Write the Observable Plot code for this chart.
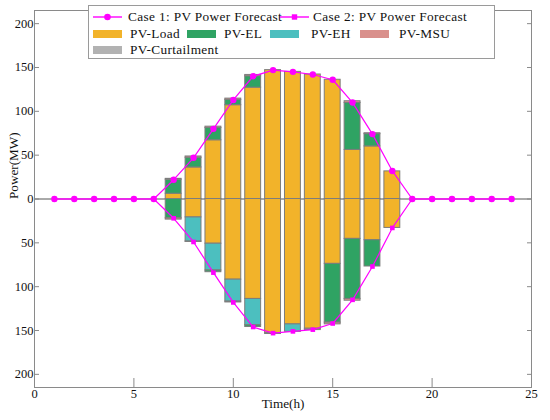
<!DOCTYPE html>
<html><head><meta charset="utf-8">
<script src="https://cdn.jsdelivr.net/npm/d3@7"></script>
<script src="https://cdn.jsdelivr.net/npm/@observablehq/plot@0.6"></script>
<style>
body{margin:0;background:#fff;}
#wrap{position:relative;width:550px;height:420px;font-family:"Liberation Serif","Times New Roman",serif;color:#111;}
#legend{position:absolute;left:88px;top:5px;width:407px;height:54px;border:1px solid #9a9a9a;background:#fff;box-sizing:border-box;}
.lg{position:absolute;font-size:13.3px;line-height:14px;white-space:nowrap;letter-spacing:0.35px;}
.sw{position:absolute;height:8px;width:29px;}
.ic{position:absolute;}
</style></head>
<body><div id="wrap"><div id="chart"></div><div id="legend"></div></div>
<script>
const hours = [1,2,3,4,5,6,7,8,9,10,11,12,13,14,15,16,17,18,19,20,21,22,23,24];
const case1Forecast = [0,0,0,0,0,0,22,47,80,113,140,147,145,142,136,110,74,32,0,0,0,0,0,0];
const case2Forecast = [0,0,0,0,0,0,22,49,84,118,146,153,151,149,142,115,77,33,0,0,0,0,0,0];

const barHours = [7,8,9,10,11,12,13,14,15,16,17,18];
const case1Load = [6,36,67,107,127,147,145,142,136,56,60,31.5];
const case1EH   = [0,0,0,0,0,0,0,0,0,0,0,0];
const case1EL   = [16,11,14,6,13,0,0,0,0,53.5,14,0];
const case1MSU  = [1,1.5,1.5,1.5,1.5,0,0,0,0,2,1,0];
const case1Curt = [0,0,0,0,0,0,0,0,0,0,0,0];

const case2Load = [0,21,51,92,114,153,143,148,74,45.5,47,33];
const case2EH   = [0,27.5,30.5,25,30,0,8.5,0,0,0,0,0];
const case2EL   = [22,0,2,0,2,0,0,0,67,68.5,30,0];
const case2MSU  = [1.5,0.5,0,1,0,1,0,1.5,2,2,0,0];
const case2Curt = [0,0,0,0,0,0,0,0,0,0,0,0];

const seriesNames  = ["PV-Load","PV-EH","PV-EL","PV-MSU","PV-Curtailment"];
const seriesColors = ["#F2B32A","#4CBFBF","#2FA363","#D9908C","#B2B2B2"];
const xTicks = [0,5,10,15,20,25];
const yTicks = [-200,-150,-100,-50,0,50,100,150,200];

const caseA = [case1Load, case1EH, case1EL, case1MSU, case1Curt];
const caseB = [case2Load, case2EH, case2EL, case2MSU, case2Curt];

const rects = [];
function stack(arrays, sign) {
  barHours.forEach((h, i) => {
    let acc = 0;
    arrays.forEach((arr, s) => {
      const v = arr[i];
      if (v > 0) {
        rects.push({hour: h, series: seriesNames[s], y1: sign * acc, y2: sign * (acc + v)});
        acc += v;
      }
    });
  });
}
stack(caseA, 1);
stack(caseB, -1);

const line1 = hours.map((h, i) => ({hour: h, value: case1Forecast[i]}));
const line2 = hours.map((h, i) => ({hour: h, value: -case2Forecast[i]}));

const frameColor = "#8a8a8a";
const halfWidth = 0.4;

const chart = Plot.plot({
  width: 550, height: 420,
  marginLeft: 34, marginRight: 19, marginTop: 10, marginBottom: 33,
  style: {fontFamily: "'Liberation Serif','Times New Roman',serif", fontSize: "12.5px", color: "#111", background: "#fff"},
  x: {domain: [0, 25], ticks: xTicks, label: null},
  y: {domain: [-215, 215], ticks: yTicks, label: null},
  color: {domain: seriesNames, range: seriesColors},
  marks: [
    Plot.ruleY([0], {stroke: "#555", strokeWidth: 1}),
    Plot.rect(rects, {x1: d => d.hour - halfWidth, x2: d => d.hour + halfWidth, y1: "y1", y2: "y2", fill: "series", stroke: "#7d7d7d", strokeWidth: 1}),
    Plot.line(line1, {x: "hour", y: "value", stroke: "#FF00FF", strokeWidth: 1.2}),
    Plot.line(line2, {x: "hour", y: "value", stroke: "#FF00FF", strokeWidth: 1.2}),
    Plot.dot(line1, {x: "hour", y: "value", fill: "#FF00FF", r: 3.2, symbol: "circle"}),
    Plot.dot(line2, {x: "hour", y: "value", fill: "#FF00FF", r: 2.6, symbol: "square"}),
    Plot.frame({stroke: frameColor}),
    Plot.axisX({ticks: xTicks, tickSize: -9, tickPadding: 11, stroke: frameColor, label: null}),
    Plot.axisY({anchor: "left", ticks: yTicks, tickSize: -5, tickPadding: 6, stroke: frameColor, tickFormat: d => Math.abs(d), label: null}),
    Plot.axisY({anchor: "right", ticks: yTicks, tickSize: -5, stroke: frameColor, tickFormat: () => "", label: null}),
    Plot.text(["Time(h)"], {frameAnchor: "bottom", dy: 20, fontSize: 13.2, text: d => d}),
    Plot.text(["Power(MW)"], {frameAnchor: "left", dx: -21, rotate: -90, fontSize: 13.2, text: d => d})
  ]
});
document.getElementById("chart").appendChild(chart);

// legend
const legend = document.getElementById("legend");
const L = (html) => legend.insertAdjacentHTML("beforeend", html);
const ox = 88, oy = 5;
function lineItem(x, y, label, symbol, tx) {
  const marker = symbol === "circle"
    ? `<circle cx="14.5" cy="5" r="3.3" fill="#FF00FF"/>`
    : `<rect x="11.8" y="2.3" width="5.4" height="5.4" fill="#FF00FF"/>`;
  L(`<svg class="ic" style="left:${x-ox-1}px;top:${y-oy-6}px" width="30" height="10"><line x1="0" y1="5" x2="29" y2="5" stroke="#FF00FF" stroke-width="1.4"/>${marker}</svg>`);
  L(`<span class="lg" style="left:${tx-ox-1}px;top:${y-oy-8}px">${label}</span>`);
}
function swatchItem(x, y, color, label, tx) {
  L(`<div class="sw" style="left:${x-ox-1}px;top:${y-oy-5}px;background:${color}"></div>`);
  L(`<span class="lg" style="left:${tx-ox-1}px;top:${y-oy-8}px">${label}</span>`);
}
lineItem(93, 17, "Case 1: PV Power Forecast", "circle", 128);
lineItem(280, 17, "Case 2: PV Power Forecast", "square", 313);
const colorOf = n => seriesColors[seriesNames.indexOf(n)];
swatchItem(93, 33.5, colorOf("PV-Load"), "PV-Load", 130);
swatchItem(187, 33.5, colorOf("PV-EL"), "PV-EL", 224);
swatchItem(270, 33.5, colorOf("PV-EH"), "PV-EH", 311);
swatchItem(360, 33.5, colorOf("PV-MSU"), "PV-MSU", 399);
swatchItem(93, 49.5, colorOf("PV-Curtailment"), "PV-Curtailment", 130);
</script></body></html>
